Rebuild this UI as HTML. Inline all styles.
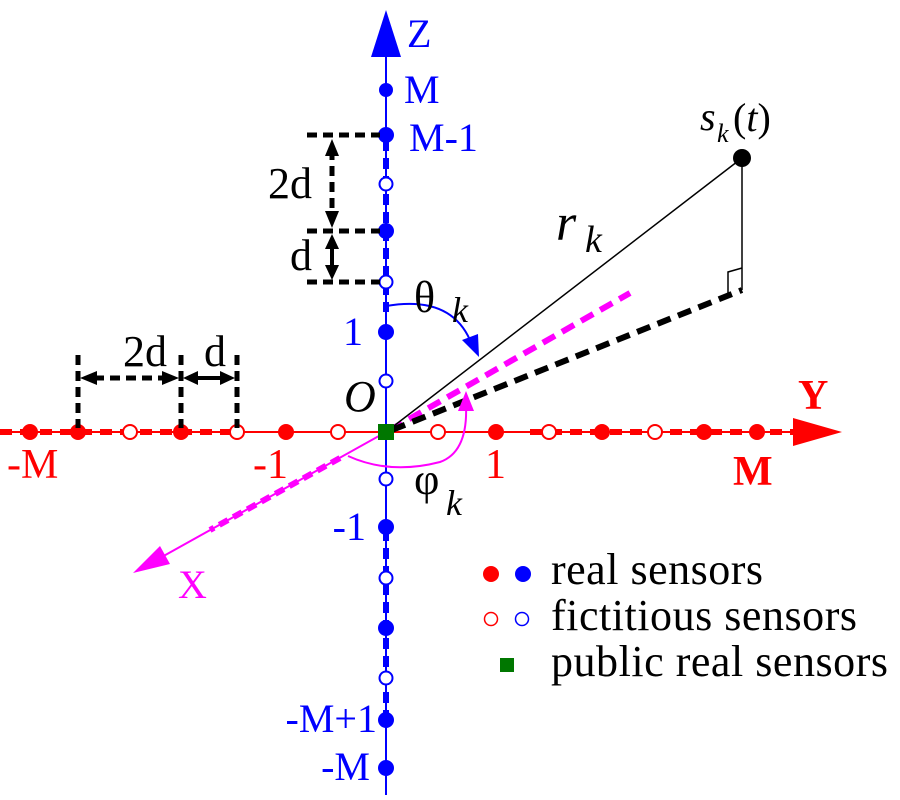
<!DOCTYPE html>
<html><head><style>body{margin:0;background:#fff}svg{display:block}</style></head><body>
<svg width="900" height="800" viewBox="0 0 900 800" xmlns="http://www.w3.org/2000/svg" font-family="Liberation Serif, serif">
<!-- Z axis -->
<line x1="386" y1="50" x2="386" y2="795" stroke="#0000ff" stroke-width="2"/>
<line x1="386" y1="140" x2="386" y2="312" stroke="#0000ff" stroke-width="6" stroke-dasharray="11,7"/>
<line x1="386" y1="530" x2="386" y2="716" stroke="#0000ff" stroke-width="6" stroke-dasharray="11,7"/>
<polygon points="386,10 371,57 401,57" fill="#0000ff"/>
<!-- Y axis -->
<line x1="0" y1="432" x2="800" y2="432" stroke="#ff0000" stroke-width="2"/>
<line x1="0" y1="432" x2="234" y2="432" stroke="#ff0000" stroke-width="6" stroke-dasharray="12,8"/>
<line x1="530" y1="432" x2="795" y2="432" stroke="#ff0000" stroke-width="6" stroke-dasharray="12,8"/>
<polygon points="842,432 793,418 793,446" fill="#ff0000"/>
<!-- X axis -->
<line x1="386" y1="432" x2="160" y2="558" stroke="#ff00ff" stroke-width="2"/>
<line x1="340" y1="458" x2="210" y2="530" stroke="#ff00ff" stroke-width="6" stroke-dasharray="10,6"/>
<polygon points="133,573 160,546 170,564" fill="#ff00ff"/>
<line x1="390" y1="430" x2="630" y2="293" stroke="#ff00ff" stroke-width="6" stroke-dasharray="14,8"/>
<!-- source lines -->
<line x1="386" y1="432" x2="742" y2="158" stroke="#000" stroke-width="1.5"/>
<line x1="742" y1="158" x2="742" y2="290" stroke="#000" stroke-width="1.5"/>
<line x1="392" y1="430" x2="742" y2="290" stroke="#000" stroke-width="6" stroke-dasharray="14,8"/>
<polyline points="728,295 728,272 742,268" fill="none" stroke="#000" stroke-width="1.5"/>
<circle cx="742" cy="158" r="9" fill="#000"/>
<!-- theta arc -->
<path d="M386,306 Q450,295 470,340" fill="none" stroke="#0000ff" stroke-width="2"/>
<polygon points="479,357 462,340 478,334" fill="#0000ff"/>
<!-- phi arc -->
<path d="M348,456 Q390,475 440,462 Q468,452 466,405" fill="none" stroke="#ff00ff" stroke-width="2"/>
<polygon points="466,391 458,411 474,411" fill="#ff00ff"/>
<!-- Z sensors -->
<g fill="#0000ff">
<circle cx="386" cy="90" r="7"/><circle cx="386" cy="135" r="8"/><circle cx="386" cy="231" r="8"/><circle cx="386" cy="332" r="8"/>
<circle cx="386" cy="527" r="8"/><circle cx="386" cy="628" r="8"/><circle cx="386" cy="720" r="8"/><circle cx="386" cy="768" r="8"/>
</g>
<g fill="#fff" stroke="#0000ff" stroke-width="2">
<circle cx="386" cy="184" r="6.5"/><circle cx="386" cy="282" r="6.5"/><circle cx="386" cy="381" r="6.5"/>
<circle cx="386" cy="479" r="6.5"/><circle cx="386" cy="578" r="6.5"/><circle cx="386" cy="678" r="6.5"/>
</g>
<!-- Y sensors -->
<g fill="#ff0000">
<circle cx="30" cy="432" r="8"/><circle cx="78" cy="432" r="8"/><circle cx="181" cy="432" r="8"/><circle cx="286" cy="432" r="8"/>
<circle cx="496" cy="432" r="8"/><circle cx="602" cy="432" r="8"/><circle cx="704" cy="432" r="8"/><circle cx="757" cy="432" r="8"/>
</g>
<g fill="#fff" stroke="#ff0000" stroke-width="2">
<circle cx="130" cy="432" r="7"/><circle cx="237" cy="432" r="7"/><circle cx="338" cy="432" r="7"/>
<circle cx="438" cy="432" r="7"/><circle cx="549" cy="432" r="7"/><circle cx="655" cy="432" r="7"/>
</g>
<rect x="378" y="424" width="16" height="16" fill="#007700"/>
<!-- dimension lines -->
<g stroke="#000" stroke-width="5" stroke-dasharray="10,6" fill="none">
<line x1="307" y1="135" x2="380" y2="135"/><line x1="307" y1="231" x2="380" y2="231"/><line x1="307" y1="282" x2="380" y2="282"/>
<line x1="332" y1="150" x2="332" y2="216"/>
<line x1="78" y1="355" x2="78" y2="428"/><line x1="181" y1="355" x2="181" y2="428"/><line x1="237" y1="355" x2="237" y2="428"/>
<line x1="94" y1="378" x2="165" y2="378"/>
</g>
<g stroke="#000" stroke-width="4"><line x1="332" y1="245" x2="332" y2="268"/><line x1="196" y1="378" x2="222" y2="378"/></g>
<g fill="#000">
<polygon points="332,139 325,156 339,156"/><polygon points="332,228 325,211 339,211"/>
<polygon points="332,234 325,249 339,249"/><polygon points="332,280 325,265 339,265"/>
<polygon points="80,378 97,371 97,385"/><polygon points="179,378 162,371 162,385"/>
<polygon points="183,378 198,371 198,385"/><polygon points="235,378 220,371 220,385"/>
</g>
<!-- labels -->
<g font-size="44" fill="#000">
<text x="268" y="198">2d</text><text x="290" y="270">d</text>
<text x="123" y="366">2d</text><text x="204" y="366">d</text>
<text x="344" y="411" font-style="italic">O</text>
<text x="414" y="312">θ</text><text x="452" y="322" font-style="italic" font-size="36">k</text>
<text x="414" y="494">φ</text><text x="446" y="515" font-style="italic" font-size="36">k</text>
<text x="556" y="240" font-style="italic" font-size="52">r</text><text x="585" y="252" font-style="italic" font-size="38">k</text>
<text x="700" y="130" font-style="italic" font-size="40">s</text><text x="717" y="142" font-style="italic" font-size="26">k</text><text x="733" y="131" font-size="40">(<tspan font-style="italic">t</tspan>)</text>
</g>
<g font-size="40" fill="#0000ff">
<text x="407" y="47">Z</text><text x="404" y="103">M</text><text x="409" y="151">M-1</text>
<text x="363" y="345" text-anchor="end">1</text><text x="366" y="540" text-anchor="end">-1</text><text x="377" y="732" text-anchor="end">-M+1</text><text x="370" y="780" text-anchor="end">-M</text>
</g>
<g font-size="42" fill="#ff0000">
<text x="798" y="409" font-weight="bold">Y</text><text x="7" y="478">-M</text><text x="253" y="478">-1</text><text x="485" y="478">1</text><text x="733" y="485" font-weight="bold">M</text>
</g>
<text x="178" y="598" font-size="40" fill="#ff00ff">X</text>
<!-- legend -->
<circle cx="491" cy="574" r="8" fill="#ff0000"/><circle cx="523" cy="574" r="8" fill="#0000ff"/>
<circle cx="491" cy="619" r="6.5" fill="#fff" stroke="#ff0000" stroke-width="1.5"/><circle cx="522" cy="619" r="6.5" fill="#fff" stroke="#0000ff" stroke-width="1.5"/>
<rect x="500" y="658" width="14" height="14" fill="#007700"/>
<g font-size="44" fill="#000">
<text x="551" y="584" textLength="212">real sensors</text><text x="551" y="630" textLength="306">fictitious sensors</text><text x="551" y="676" textLength="337">public real sensors</text>
</g>
</svg>
</body></html>
